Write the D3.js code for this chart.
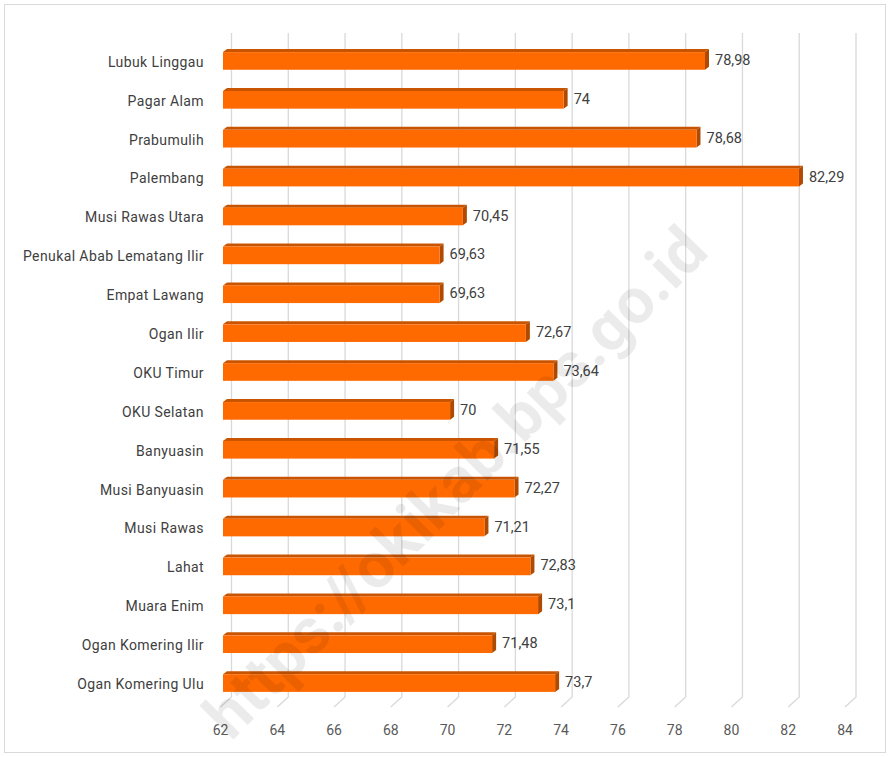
<!DOCTYPE html>
<html>
<head>
<meta charset="utf-8">
<script src="https://cdn.jsdelivr.net/npm/d3@7"></script>
<style>
  body { margin: 0; background: #fff; }
  text { font-family: Roboto, "Noto Sans", sans-serif; }
</style>
</head>
<body>
<svg id="chart" width="890" height="757"></svg>
<script>
var categories = ["Lubuk Linggau", "Pagar Alam", "Prabumulih", "Palembang", "Musi Rawas Utara",
  "Penukal Abab Lematang Ilir", "Empat Lawang", "Ogan Ilir", "OKU Timur", "OKU Selatan",
  "Banyuasin", "Musi Banyuasin", "Musi Rawas", "Lahat", "Muara Enim",
  "Ogan Komering Ilir", "Ogan Komering Ulu"];
var values = [78.98, 74, 78.68, 82.29, 70.45, 69.63, 69.63, 72.67, 73.64, 70,
  71.55, 72.27, 71.21, 72.83, 73.1, 71.48, 73.7];
var ticks = [62, 64, 66, 68, 70, 72, 74, 76, 78, 80, 82, 84];

var svg = d3.select("#chart");

// outer frame
svg.append("rect")
  .attr("x", 4.5).attr("y", 4.5)
  .attr("width", 881).attr("height", 748)
  .attr("fill", "#fff").attr("stroke", "#d9d9d9");

// 3d offsets: back wall is shifted right/up from the floor front edge
var depthX = 11, depthY = 10;

var xBack = d3.scaleLinear().domain([62, 84]).range([231.5, 856]);
var xFront = function(v) { return xBack(v) - depthX; };
var xMid = function(v) { return xBack(v) - depthX / 2; };

var y = d3.scaleBand()
  .domain(categories)
  .range([41, 702])
  .paddingInner(0.52)
  .paddingOuter(0.26);

var gridTop = 33, gridBottom = 697;

// gridlines (back wall + floor diagonal)
var grid = svg.append("g");
ticks.forEach(function(t) {
  grid.append("path")
    .attr("d", "M" + xBack(t) + "," + gridTop + "V" + gridBottom +
      "L" + xFront(t) + "," + (gridBottom + depthY))
    .attr("fill", "none")
    .attr("stroke", "#d9d9d9")
    .attr("stroke-width", 1.3);
});

// tick labels
svg.append("g").selectAll("text")
  .data(ticks)
  .enter().append("text")
  .attr("x", function(d) { return xFront(d); })
  .attr("y", 735)
  .attr("text-anchor", "middle")
  .attr("fill", "#595959")
  .style("font-size", "14px")
  .text(function(d) { return d; });

// bars
var dx = 4, dy = 3;
var bars = svg.append("g").selectAll("g")
  .data(categories)
  .enter().append("g");

bars.each(function(c, i) {
  var g = d3.select(this);
  var x0 = xMid(62) - 3, x1 = xMid(values[i]) - 3;
  var y0 = y(c) + 1, h = y.bandwidth() - 1, y1 = y0 + h;
  // top face
  g.append("path")
    .attr("d", "M" + x0 + "," + y0 + "L" + (x0 + dx) + "," + (y0 - dy) +
      "L" + (x1 + dx) + "," + (y0 - dy) + "L" + x1 + "," + y0 + "Z")
    .attr("fill", "#c85400");
  // side face
  g.append("path")
    .attr("d", "M" + x1 + "," + y0 + "L" + (x1 + dx) + "," + (y0 - dy) +
      "L" + (x1 + dx) + "," + (y1 - dy) + "L" + x1 + "," + y1 + "Z")
    .attr("fill", "#b04a00");
  // front face
  g.append("rect")
    .attr("x", x0).attr("y", y0)
    .attr("width", x1 - x0).attr("height", h)
    .attr("fill", "#ff6a00");
  // value label
  g.append("text")
    .attr("x", x1 + dx + 6)
    .attr("y", y0 + h / 2 - 1)
    .attr("dy", "0.35em")
    .attr("fill", "#404040")
    .style("font-size", "14.5px")
    .text(String(values[i]).replace(".", ","));
  // category label
  g.append("text")
    .attr("x", 204)
    .attr("y", y0 + h / 2 + 1)
    .attr("dy", "0.35em")
    .attr("text-anchor", "end")
    .attr("fill", "#404040")
    .style("font-size", "14px")
    .style("letter-spacing", "0.4px")
    .text(c);
});

// watermark
svg.append("text")
  .attr("transform", "translate(455,482) rotate(-45.5)")
  .attr("text-anchor", "middle")
  .attr("dy", "0.35em")
  .attr("fill", "rgba(0,0,0,0.08)")
  .style("font-size", "64px")
  .style("font-weight", "bold")
  .text("https://okikab.bps.go.id");
</script>
</body>
</html>
